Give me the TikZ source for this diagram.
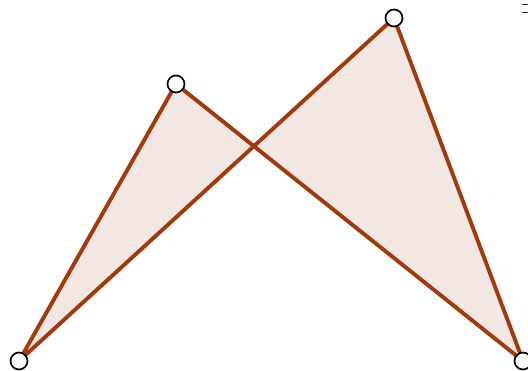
\documentclass[tikz,border=0pt]{standalone}
\definecolor{edgec}{HTML}{A23A0C}
\definecolor{fillc}{HTML}{F3E7E3}
\begin{document}
\begin{tikzpicture}[x=1pt,y=-1pt,
  pt/.style={circle,draw=black,fill=white,line width=1.7pt,minimum size=17pt,inner sep=0pt},
  edge/.style={draw=edgec,line width=3.9pt,line join=round}]
\useasboundingbox (0,0) rectangle (528,371);
\fill[white] (0,0) rectangle (528,371);
\coordinate (A) at (19,361);
\coordinate (B) at (176,84);
\coordinate (C) at (394,18);
\coordinate (D) at (523,361);
\fill[fillc] (A) -- (B) -- (D) -- (C) -- cycle;
\draw[edge] (A) -- (B) -- (D) -- (C) -- cycle;
\node[pt] (a) at (A) {};
\node[pt] (b) at (B) {};
\node[pt] (c) at (C) {};
\node[pt] (d) at (D) {};
\coordinate (m1) at (521.5,4.7);
\coordinate (m2) at (528,4.7);
\coordinate (m3) at (521.5,12.7);
\coordinate (m4) at (528,12.7);
\draw[line width=1.3pt,black!80] (m1) -- (m2);
\draw[line width=1.3pt,black!80] (m3) -- (m4);
\end{tikzpicture}
\end{document}
